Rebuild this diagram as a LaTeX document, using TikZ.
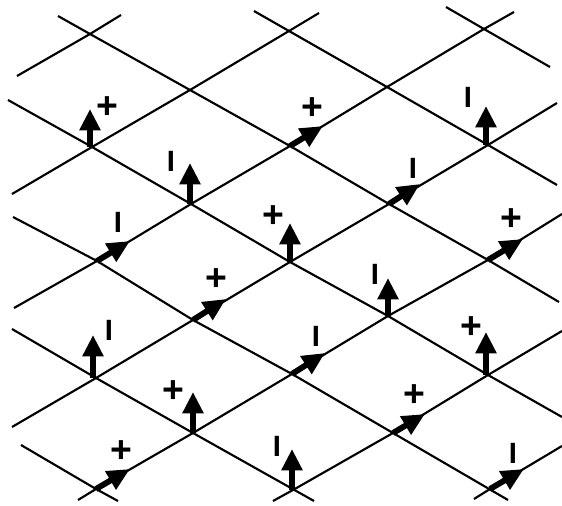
\documentclass[tikz,border=0pt]{standalone}
\usepackage{fontspec}
\setmainfont{Liberation Sans}
\usetikzlibrary{arrows.meta}
\tikzset{
	gridline/.style={color=black,line width=1.6pt},
	uparrow/.style={color=black,line width=5pt,-{Triangle[length=16pt,width=15pt]}},
	diagarrow/.style={color=black,line width=4.4pt,-{Triangle[length=17pt,width=15pt]}},
	plussign/.style={inner sep=0pt,font=\fontsize{28}{28}\selectfont\bfseries},
	barsign/.style={inner sep=0pt,font=\fontsize{22}{22}\selectfont\bfseries}
}

\begin{document}
\begin{tikzpicture}[x=0.75pt,y=0.75pt,yscale=-1,xscale=1]
	\useasboundingbox (0,0) rectangle (562,506);
	
	%Lattice sites
	\coordinate (v11) at (90,34);   \coordinate (v12) at (289,31);  \coordinate (v13) at (484,29);
	\coordinate (v21) at (190,90);  \coordinate (v22) at (387,87);
	\coordinate (v31) at (92,147);  \coordinate (v32) at (290,146); \coordinate (v33) at (488,145);
	\coordinate (v41) at (191,204); \coordinate (v42) at (389,204);
	\coordinate (v51) at (97,261);  \coordinate (v52) at (290,262); \coordinate (v53) at (488,260);
	\coordinate (v61) at (193,320); \coordinate (v62) at (388,316);
	\coordinate (v71) at (96,378);  \coordinate (v72) at (292,374); \coordinate (v73) at (488,375);
	\coordinate (v81) at (193,433); \coordinate (v82) at (393,433);
	\coordinate (v91) at (96,489);  \coordinate (v92) at (293,490); \coordinate (v93) at (490,489);
	
	%Rising line ends
	\coordinate (ra) at (17,76);   \coordinate (rb) at (121,15);
	\coordinate (rc) at (12,194);  \coordinate (rd) at (319,13);
	\coordinate (re) at (14,308);  \coordinate (rf) at (514,12);
	\coordinate (rg) at (12,427);  \coordinate (rh) at (557,103);
	\coordinate (ri) at (78,500);  \coordinate (rj) at (562,214);
	\coordinate (rk) at (273,501); \coordinate (rl) at (562,331);
	\coordinate (rm) at (474,499); \coordinate (rn) at (562,446);
	
	%Falling line ends
	\coordinate (fa) at (58,16);   \coordinate (fb) at (559,302);
	\coordinate (fc) at (8,100);   \coordinate (fd) at (562,417);
	\coordinate (fe) at (13,217);  \coordinate (ff) at (508,500);
	\coordinate (fg) at (12,329);  \coordinate (fh) at (314,501);
	\coordinate (fi) at (21,445);  \coordinate (fj) at (118,501);
	\coordinate (fk) at (254,11);  \coordinate (fl) at (557,185);
	\coordinate (fm) at (446,7);   \coordinate (fn) at (550,67);
	
	%Straight Lines
	\draw [gridline] (ra) -- (v11) -- (rb);
	\draw [gridline] (rc) -- (v31) -- (v21) -- (v12) -- (rd);
	\draw [gridline] (re) -- (v51) -- (v41) -- (v32) -- (v22) -- (v13) -- (rf);
	\draw [gridline] (rg) -- (v71) -- (v61) -- (v52) -- (v42) -- (v33) -- (rh);
	\draw [gridline] (ri) -- (v91) -- (v81) -- (v72) -- (v62) -- (v53) -- (rj);
	\draw [gridline] (rk) -- (v92) -- (v82) -- (v73) -- (rl);
	\draw [gridline] (rm) -- (v93) -- (rn);
	
	\draw [gridline] (fa) -- (v11) -- (v21) -- (v32) -- (v42) -- (v53) -- (fb);
	\draw [gridline] (fc) -- (v31) -- (v41) -- (v52) -- (v62) -- (v73) -- (fd);
	\draw [gridline] (fe) -- (v51) -- (v61) -- (v72) -- (v82) -- (ff);
	\draw [gridline] (fg) -- (v71) -- (v81) -- (fh);
	\draw [gridline] (fi) -- (v91) -- (fj);
	\draw [gridline] (fk) -- (v12) -- (v22) -- (v33) -- (fl);
	\draw [gridline] (fm) -- (v13) -- (fn);
	
	%Arrow tips
	\coordinate (t31) at (90,109);  \coordinate (t32) at (323,126); \coordinate (t33) at (486,106);
	\coordinate (t41) at (190,163); \coordinate (t42) at (420,184);
	\coordinate (t51) at (130,241); \coordinate (t52) at (290,223); \coordinate (t53) at (523,239);
	\coordinate (t61) at (226,299); \coordinate (t62) at (388,278);
	\coordinate (t71) at (93,335);  \coordinate (t72) at (325,353); \coordinate (t73) at (486,332);
	\coordinate (t81) at (193,392); \coordinate (t82) at (425,414);
	\coordinate (t91) at (130,469); \coordinate (t92) at (292,449); \coordinate (t93) at (524,469);
	
	%Spin arrows
	\draw [uparrow] (t31 |- v31) -- (t31);
	\draw [diagarrow] (v32) -- (t32);
	\draw [uparrow] (t33 |- v33) -- (t33);
	\draw [uparrow] (t41 |- v41) -- (t41);
	\draw [diagarrow] (v42) -- (t42);
	\draw [diagarrow] (v51) -- (t51);
	\draw [uparrow] (t52 |- v52) -- (t52);
	\draw [diagarrow] (v53) -- (t53);
	\draw [diagarrow] (v61) -- (t61);
	\draw [uparrow] (t62 |- v62) -- (t62);
	\draw [uparrow] (t71 |- v71) -- (t71);
	\draw [diagarrow] (v72) -- (t72);
	\draw [uparrow] (t73 |- v73) -- (t73);
	\draw [uparrow] (t81 |- v81) -- (t81);
	\draw [diagarrow] (v82) -- (t82);
	\draw [diagarrow] (v91) -- (t91);
	\draw [uparrow] (t92 |- v92) -- (t92);
	\draw [diagarrow] (v93) -- (t93);
	
	% Text Node
	\node [plussign] (s31) at (107,108) {+};
	\node [plussign] (s32) at (312,109) {+};
	\node [barsign] (s33) at (468,97) {I};
	\node [barsign] (s41) at (171,161) {I};
	\node [barsign] (s42) at (413,168) {I};
	\node [barsign] (s51) at (118,222) {I};
	\node [plussign] (s52) at (273,217) {+};
	\node [plussign] (s53) at (511,220) {+};
	\node [plussign] (s61) at (216,280) {+};
	\node [barsign] (s62) at (375,274) {I};
	\node [barsign] (s71) at (109,330) {I};
	\node [barsign] (s72) at (316,336) {I};
	\node [plussign] (s73) at (471,328) {+};
	\node [plussign] (s81) at (173,392) {+};
	\node [plussign] (s82) at (414,396) {+};
	\node [plussign] (s91) at (121,452) {+};
	\node [barsign] (s92) at (277,446) {I};
	\node [barsign] (s93) at (513,453) {I};
	
\end{tikzpicture}
\end{document}
